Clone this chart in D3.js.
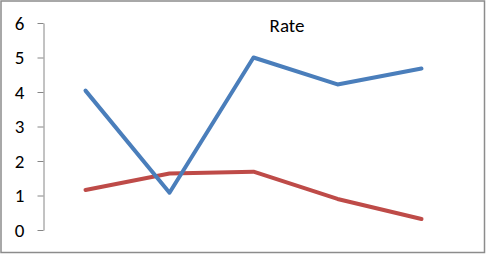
<!DOCTYPE html>
<html>
<head>
<meta charset="utf-8">
<script src="https://cdn.jsdelivr.net/npm/d3@7"></script>
<style>
  body { margin: 0; background: #fff; }
  svg { display: block; }
</style>
</head>
<body>
<div id="chart"></div>
<script>
// chart data
var categories = ["1", "2", "3", "4", "5"];
var blueValues = [4.04, 1.08, 5.0, 4.22, 4.68];
var redValues = [1.16, 1.64, 1.69, 0.9, 0.32];
var yTicks = [0, 1, 2, 3, 4, 5, 6];
var title = "Rate";

var W = 486, H = 254;
var margin = { top: 23, right: 22, bottom: 24, left: 43.5 },
    width = W - margin.left - margin.right,
    height = H - margin.top - margin.bottom;

var svg = d3.select("#chart")
    .append("svg")
    .attr("width", W)
    .attr("height", H);

// outer frame
svg.append("rect")
    .attr("x", 1).attr("y", 1)
    .attr("width", W - 2.5).attr("height", H - 2.5)
    .attr("fill", "#fff")
    .attr("stroke", "#8c8c8c")
    .attr("stroke-width", 1.5);

var g = svg.append("g")
    .attr("transform", "translate(" + margin.left + "," + margin.top + ")");

var x = d3.scaleBand().domain(categories).range([0, 5 * 84]);
var y = d3.scaleLinear().domain([0, 6]).range([207, 0]);

// y axis
var yAxis = g.append("g")
    .call(d3.axisLeft(y).tickValues(yTicks).tickSize(6).tickSizeOuter(0).tickPadding(13).tickFormat(d3.format("d")));
yAxis.select(".domain").attr("stroke", "#868686");
yAxis.selectAll(".tick line").attr("stroke", "#868686");
yAxis.selectAll("text")
    .attr("font-family", "Carlito, 'Liberation Sans', Arial, sans-serif")
    .attr("font-size", 19)
    .attr("fill", "#000");

var line = d3.line()
    .x(function (d, i) { return x(categories[i]) + x.bandwidth() / 2; })
    .y(function (d) { return y(d); });

g.append("path")
    .datum(redValues)
    .attr("d", line)
    .attr("fill", "none")
    .attr("stroke", "#BE4B48")
    .attr("stroke-width", 4)
    .attr("stroke-linejoin", "round")
    .attr("stroke-linecap", "round");

g.append("path")
    .datum(blueValues)
    .attr("d", line)
    .attr("fill", "none")
    .attr("stroke", "#4A7EBB")
    .attr("stroke-width", 4)
    .attr("stroke-linejoin", "round")
    .attr("stroke-linecap", "round");

// title
svg.append("text")
    .attr("x", 287).attr("y", 32)
    .attr("text-anchor", "middle")
    .attr("font-family", "Carlito, 'Liberation Sans', Arial, sans-serif")
    .attr("font-size", 19)
    .attr("fill", "#000")
    .text(title);
</script>
</body>
</html>
